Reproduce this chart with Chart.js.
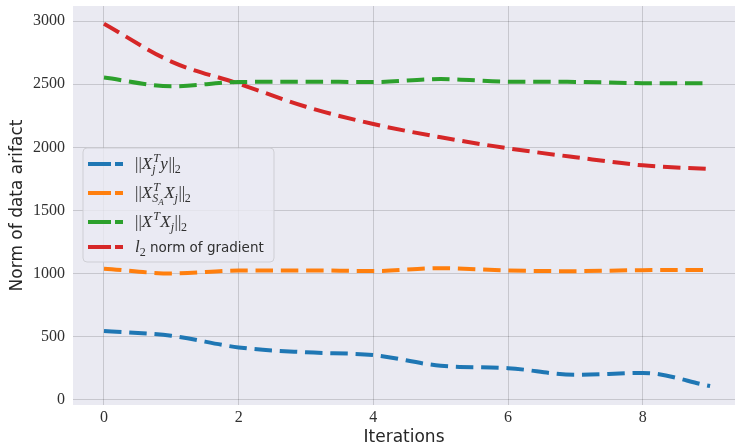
<!DOCTYPE html>
<html><head><meta charset="utf-8">
<script src="https://cdn.jsdelivr.net/npm/chart.js@4.4.0/dist/chart.umd.min.js"></script>
<style>html,body{margin:0;padding:0;background:#fff}#wrap{width:735px;height:448px;position:relative}</style>
</head><body><div id="wrap"><canvas id="c" width="735" height="448"></canvas></div>
<script>
const iterations = [0, 1, 2, 3, 4, 5, 6, 7, 8, 9];
const xtyNorm  = [547, 508, 416, 377, 355, 271, 252, 199, 214, 110];
const xsaxNorm = [1040, 1002, 1025, 1026, 1021, 1044, 1025, 1020, 1028, 1029];
const xxNorm   = [2553, 2484, 2518, 2521, 2518, 2541, 2521, 2519, 2509, 2509];
const gradNorm = [2980, 2680, 2505, 2322, 2185, 2080, 1993, 1922, 1858, 1829];
const xTicks = [0, 2, 4, 6, 8];
const yTicks = [0, 500, 1000, 1500, 2000, 2500, 3000];
const seriesLabels = ['$||X_j^T y||_2$', '$||X_{S_A}^T X_j||_2$', '$||X^T X_j||_2$', '$l_2$ norm of gradient'];
const seriesColors = ['#1f77b4', '#ff7f0e', '#2ca02c', '#d62728'];
const xTitle = 'Iterations';
const yTitle = 'Norm of data arifact';

const seriesValues = [xtyNorm, xsaxNorm, xxNorm, gradNorm];

// ---- mini math renderer for legend labels ----
function parseMath(s) {
  let i = 0;
  function one() {
    if (s[i] === '{') { i++; const g = group(); i++; return g; }
    const c = s[i]; i++; return [{c}];
  }
  function group() {
    const out = [];
    while (i < s.length && s[i] !== '}') {
      if (s[i] === ' ') { i++; continue; }
      let base;
      if (s[i] === '{') { i++; base = {g: group()}; i++; }
      else { base = {c: s[i]}; i++; }
      while (s[i] === '^' || s[i] === '_') {
        const k = s[i]; i++;
        const arg = one();
        if (k === '^') base.sup = arg; else base.sub = arg;
      }
      out.push(base);
    }
    return out;
  }
  return group();
}
const mSizes = [17, 12, 9];
function mFont(ch, lvl) {
  const it = /[A-Za-z]/.test(ch);
  return (it ? 'italic ' : '') + mSizes[lvl] + 'px "Liberation Serif"';
}
function drawList(ctx, list, x, y, lvl, draw) {
  let w = 0;
  for (const a of list) {
    let bw;
    if (a.g) bw = drawList(ctx, a.g, x + w, y, lvl, draw);
    else {
      ctx.font = mFont(a.c, lvl);
      bw = ctx.measureText(a.c).width;
      if (draw) ctx.fillText(a.c, x + w, y);
      if (/[A-Za-z]/.test(a.c)) bw += 0.5;
    }
    w += bw;
    const l2 = Math.min(lvl + 1, 2);
    let sw = 0;
    if (a.sup) sw = Math.max(sw, drawList(ctx, a.sup, x + w + 0.5, y - mSizes[lvl] * 0.42, l2, draw) + 0.5);
    if (a.sub) sw = Math.max(sw, drawList(ctx, a.sub, x + w - 0.5, y + mSizes[lvl] * 0.24, l2, draw) - 0.5);
    w += sw;
  }
  return w;
}
function drawLabel(ctx, label, x, y) {
  const parts = label.split('$');
  let w = 0;
  parts.forEach((p, k) => {
    if (!p) return;
    if (k % 2 === 1) {
      w += drawList(ctx, parseMath(p), x + w, y, 0, true);
    } else {
      ctx.font = '13.5px "DejaVu Sans"';
      ctx.fillText(p, x + w, y);
      w += ctx.measureText(p).width;
    }
  });
}

const bgPlugin = {
  id: 'bg',
  beforeDraw(chart) {
    const {ctx, chartArea: a} = chart;
    ctx.save();
    ctx.fillStyle = '#ffffff';
    ctx.fillRect(0, 0, chart.width, chart.height);
    ctx.fillStyle = '#eaeaf2';
    ctx.fillRect(a.left, a.top, a.right - a.left, a.bottom - a.top);
    ctx.restore();
  }
};

const legendPlugin = {
  id: 'mathLegend',
  afterDraw(chart) {
    const ctx = chart.ctx;
    ctx.save();
    const bx = 83, by = 148, bw = 191, bh = 114, r = 4;
    ctx.beginPath();
    ctx.moveTo(bx + r, by);
    ctx.arcTo(bx + bw, by, bx + bw, by + bh, r);
    ctx.arcTo(bx + bw, by + bh, bx, by + bh, r);
    ctx.arcTo(bx, by + bh, bx, by, r);
    ctx.arcTo(bx, by, bx + bw, by, r);
    ctx.closePath();
    ctx.fillStyle = 'rgba(234,234,242,0.8)';
    ctx.fill();
    ctx.strokeStyle = 'rgba(204,204,210,0.9)';
    ctx.lineWidth = 1;
    ctx.stroke();
    const rows = [164, 193, 222, 247];
    chart.data.datasets.forEach((ds, i) => {
      const yy = rows[i];
      ctx.strokeStyle = ds.borderColor;
      ctx.lineWidth = 4;
      ctx.lineCap = 'butt';
      ctx.setLineDash([]);
      ctx.beginPath();
      ctx.moveTo(88, yy); ctx.lineTo(111, yy);
      ctx.moveTo(115, yy); ctx.lineTo(123, yy);
      ctx.stroke();
      ctx.fillStyle = '#303030';
      ctx.textBaseline = 'alphabetic';
      drawLabel(ctx, ds.label, 135, yy + 5);
    });
    ctx.restore();
  }
};

const datasets = seriesValues.map((vals, i) => ({
  label: seriesLabels[i],
  data: iterations.map((x, j) => ({x, y: vals[j]})),
  borderColor: seriesColors[i],
  backgroundColor: seriesColors[i],
  borderWidth: 4,
  borderDash: [17.5, 7.8],
  borderCapStyle: 'butt',
  pointRadius: 0,
  cubicInterpolationMode: 'monotone',
  fill: false
}));

new Chart(document.getElementById('c'), {
  type: 'line',
  data: {datasets},
  options: {
    responsive: false,
    animation: false,
    layout: {padding: {top: 6, left: 0, right: 0, bottom: 0}},
    plugins: {legend: {display: false}, tooltip: {enabled: false}},
    scales: {
      x: {
        type: 'linear', min: -0.46, max: 9.37,
        afterBuildTicks(s) { s.ticks = xTicks.map(v => ({value: v})); },
        afterFit(s) { s.height = 43; s.paddingLeft = 0; s.paddingRight = 0; },
        grid: {color: 'rgba(0,0,0,0.15)', lineWidth: 1, drawTicks: false},
        border: {display: false},
        ticks: {padding: 3, color: '#303030', font: {family: '"Liberation Serif"', size: 16}, callback: v => String(v)},
        title: {display: true, text: xTitle, color: '#262626', font: {family: '"DejaVu Sans"', size: 17}, padding: {top: 0, bottom: 0}}
      },
      y: {
        type: 'linear', min: -40, max: 3120,
        afterBuildTicks(s) { s.ticks = yTicks.map(v => ({value: v})); },
        afterFit(s) { s.width = 73; s.paddingTop = 0; s.paddingBottom = 0; },
        grid: {color: 'rgba(0,0,0,0.15)', lineWidth: 1, drawTicks: false},
        border: {display: false},
        ticks: {padding: 8, color: '#303030', font: {family: '"Liberation Serif"', size: 16}, callback: v => String(v)},
        title: {display: true, text: yTitle, color: '#262626', font: {family: '"DejaVu Sans"', size: 17}, padding: {top: 7, bottom: 0}}
      }
    }
  },
  plugins: [bgPlugin, legendPlugin]
});
</script>
</body></html>
